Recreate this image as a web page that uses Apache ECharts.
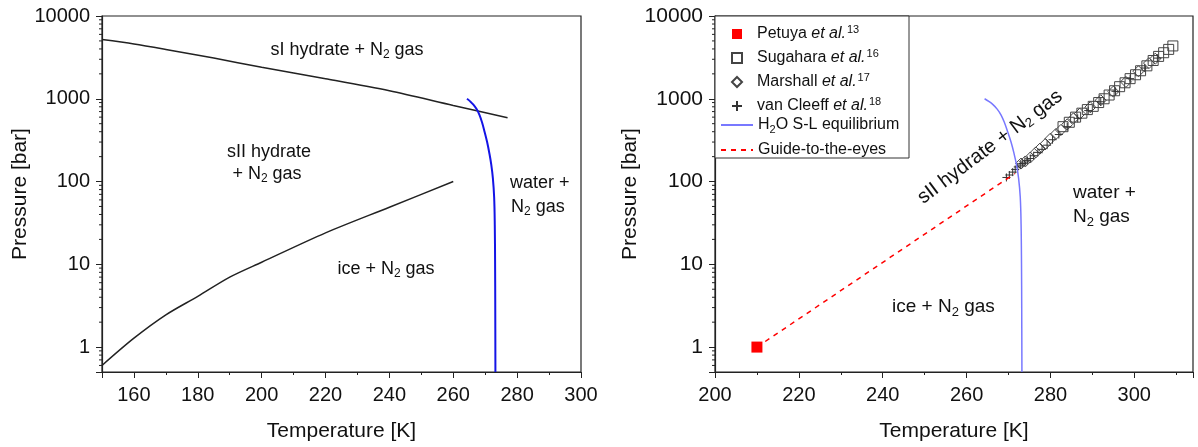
<!DOCTYPE html>
<html>
<head>
<meta charset="utf-8">
<script src="https://cdn.jsdelivr.net/npm/echarts@6/dist/echarts.min.js"></script>
<style>
  html, body { margin: 0; padding: 0; background: #fff; }
  #chart { width: 1198px; height: 447px; }
</style>
</head>
<body>
<div id="chart"></div>
<script>
// 左图：相平衡曲线
const sIT = [150, 160, 170, 185, 200, 220, 240, 260, 277];
const sIP = [5200, 4600, 3950, 3100, 2400, 1750, 1250, 830, 590];

const sIIT = [150, 160, 170, 180, 190, 200, 220, 240, 260];
const sIIP = [0.6, 1.28, 2.45, 4.1, 7.0, 10.6, 24, 49, 100];

// 冰-水 熔化曲线（两图共用）
const meltT = [264.3, 265.3, 266.3, 267.3, 268.2, 269.0, 269.8, 270.6, 271.3, 271.9, 272.4, 272.8, 273.0, 273.1, 273.15, 273.2];
const meltP = [1000, 930, 850, 750, 640, 520, 400, 300, 220, 160, 110, 65, 30, 10, 3, 0.5];

// 右图：实验数据
const petuyaT = [210];
const petuyaP = [1];

const sugaharaT = [283.0, 284.5, 286.0, 287.5, 288.8, 290.2, 291.5, 292.8, 294.0, 295.3, 296.5, 297.8, 299.0, 300.3, 301.5, 303.0, 304.5, 305.8, 307.0, 308.2, 309.2];
const sugaharaP = [460, 520, 600, 670, 740, 810, 900, 1000, 1110, 1250, 1400, 1560, 1750, 1950, 2180, 2500, 2900, 3250, 3600, 3950, 4350];

const marshallT = [273.0, 274.0, 275.2, 276.5, 277.5, 278.8, 280.0, 281.3, 282.5, 284.0, 285.5, 287.0, 289.5, 292.0, 295.0, 298.0, 301.0, 303.5, 305.0];
const marshallP = [165, 175, 195, 225, 250, 285, 330, 375, 420, 490, 580, 660, 790, 960, 1220, 1600, 2150, 2700, 3050];

const cleeffT = [269.5, 270.2, 271.0, 271.6, 272.2, 272.8, 273.3, 273.9, 274.5, 275.2, 276.0, 277.0, 278.0, 279.2, 280.5, 282.0, 284.0, 286.5, 289.0, 292.0, 295.5, 299.0, 302.5, 305.5];
const cleeffP = [112, 120, 130, 140, 150, 158, 165, 172, 180, 190, 205, 225, 245, 275, 320, 370, 460, 580, 720, 920, 1230, 1750, 2350, 3100];

const guideT = [210, 271.5];
const guideP = [1, 125];

// 对数轴次刻度
const minorTickVals = [0.6, 0.7, 0.8, 0.9,
  2, 3, 4, 5, 6, 7, 8, 9,
  20, 30, 40, 50, 60, 70, 80, 90,
  200, 300, 400, 500, 600, 700, 800, 900,
  2000, 3000, 4000, 5000, 6000, 7000, 8000, 9000];

const FONT = 'Liberation Sans, Arial, sans-serif';
const zip = (xs, ys) => xs.map((x, i) => [x, ys[i]]);

const chart = echarts.init(document.getElementById('chart'));

function xAxisCfg(gridIndex, min, max, extra) {
  return Object.assign({
    type: 'value', gridIndex, min, max,
    name: 'Temperature [K]', nameLocation: 'middle', nameGap: 49,
    nameTextStyle: { fontSize: 21, color: '#111', fontFamily: FONT },
    axisLine: { show: true, lineStyle: { color: '#222', width: 1.2 } },
    axisTick: { show: true, inside: false, length: 6, lineStyle: { color: '#222' } },
    minorTick: { show: true, splitNumber: 2, length: 3, lineStyle: { color: '#222' } },
    axisLabel: {
      fontSize: 20, color: '#111', fontFamily: FONT, margin: 13,
      formatter: v => (v % 20 === 0 ? String(v) : '')
    },
    splitLine: { show: false }
  }, extra);
}

function yAxisCfg(gridIndex, fs) {
  return {
    type: 'log', logBase: 10, gridIndex, min: 0.5, max: 10000,
    name: 'Pressure [bar]', nameLocation: 'middle', nameGap: 65,
    nameTextStyle: { fontSize: 21, color: '#111', fontFamily: FONT },
    axisLine: { show: true, lineStyle: { color: '#222', width: 1.2 } },
    axisTick: { show: true, inside: false, length: 6, lineStyle: { color: '#222' } },
    axisLabel: {
      fontSize: fs, color: '#111', fontFamily: FONT, margin: 12,
      formatter: v => {
        const l = Math.log10(v);
        return Math.abs(l - Math.round(l)) < 1e-6 ? String(Math.round(v)) : '';
      }
    },
    splitLine: { show: false }
  };
}

function minorTickSeries(xi, yi, xMin) {
  return {
    type: 'custom', xAxisIndex: xi, yAxisIndex: yi, silent: true, clip: false,
    data: minorTickVals.map(v => [xMin, v]),
    renderItem: (params, api) => {
      const p = api.coord([api.value(0), api.value(1)]);
      return {
        type: 'line',
        shape: { x1: p[0] - 3, y1: p[1], x2: p[0], y2: p[1] },
        style: { stroke: '#222', lineWidth: 1 }
      };
    }
  };
}

function label(x, y, text, align, size, rot) {
  const s = size || 18;
  return {
    type: 'text', x, y, rotation: rot || 0,
    style: {
      text, align: align || 'center', verticalAlign: 'middle',
      rich: {
        n: { fontSize: s, fontFamily: FONT, fill: '#111' },
        sub: { fontSize: Math.round(s * 0.66), fontFamily: FONT, fill: '#111', padding: [10, 0, 0, 0] }
      }
    }
  };
}

const legendNames = {
  'Petuya': '{g|}{n|Petuya }{i|et al.}{s|13}',
  'Sugahara': '{g|}{n|Sugahara }{i|et al.}{s|16}',
  'Marshall': '{g|}{n|Marshall }{i|et al.}{s|17}',
  'van Cleeff': '{g|}{n|van Cleeff }{i|et al.}{s|18}',
  'H2O': '{n|H}{b|2}{n|O S-L equilibrium}',
  'Guide': '{n|Guide-to-the-eyes}'
};

const legendText = {
  fontSize: 16, color: '#111', fontFamily: FONT,
  rich: {
    g: { width: 10, fontSize: 16 },
    n: { fontSize: 16, fontFamily: FONT, color: '#111' },
    i: { fontSize: 16, fontFamily: FONT, color: '#111', fontStyle: 'italic' },
    s: { fontSize: 11, fontFamily: FONT, color: '#111', padding: [0, 0, 9, 1] },
    b: { fontSize: 11, fontFamily: FONT, color: '#111', padding: [9, 0, 0, 0] }
  }
};

const hollow = { color: 'rgba(255,255,255,0)', borderColor: '#444', borderWidth: 1, opacity: 1 };
const plusPath = 'path://M5,0L5,10M0,5L10,5';

chart.setOption({
  animation: false,
  textStyle: { fontFamily: FONT },
  grid: [
    { left: 102, top: 16, width: 479, height: 358, show: true, borderColor: '#222', borderWidth: 1.2, backgroundColor: 'transparent' },
    { left: 715, top: 16, width: 478, height: 360, show: true, borderColor: '#222', borderWidth: 1.2, backgroundColor: 'transparent' }
  ],
  xAxis: [
    xAxisCfg(0, 150, 300, { splitNumber: 7 }),
    xAxisCfg(1, 200, 314, { interval: 20 })
  ],
  yAxis: [yAxisCfg(0, 20), yAxisCfg(1, 21)],
  legend: [
    {
      left: 731, top: 24, orient: 'vertical', z: 10,
      itemWidth: 10, itemHeight: 10, itemGap: 6,
      padding: 0,
      data: [
        { name: 'Petuya', icon: 'rect', itemStyle: { color: '#ff0000', opacity: 1 } },
        { name: 'Sugahara', icon: 'rect' },
        { name: 'Marshall', icon: 'diamond' },
        { name: 'van Cleeff', icon: plusPath }
      ],
      formatter: name => legendNames[name],
      textStyle: legendText
    },
    {
      left: 720, top: 117, orient: 'vertical', z: 10,
      itemWidth: 32, itemHeight: 11, itemGap: 7, itemTextGap: 5,
      padding: 0,
      data: [
        { name: 'H2O', itemStyle: { opacity: 0 } },
        { name: 'Guide', itemStyle: { opacity: 0 } }
      ],
      formatter: name => legendNames[name],
      textStyle: legendText
    }
  ],
  graphic: [
    // 图例外框
    { type: 'rect', z: 5, shape: { x: 715, y: 16, width: 194, height: 142 },
      style: { fill: '#fff', stroke: '#333', lineWidth: 1 } },
    // 左图标注
    label(347, 50, '{n|sI hydrate + N}{sub|2}{n| gas}'),
    label(269, 152, '{n|sII hydrate}'),
    label(267, 174, '{n|+ N}{sub|2}{n| gas}'),
    label(386, 269, '{n|ice + N}{sub|2}{n| gas}'),
    label(510, 183, '{n|water +}', 'left'),
    label(511, 207, '{n|N}{sub|2}{n| gas}', 'left'),
    // 右图标注
    label(990, 147, '{n|sII hydrate + N}{sub|2}{n| gas}', 'center', 20, 37 * Math.PI / 180),
    label(1073, 193, '{n|water +}', 'left', 19),
    label(1073, 217, '{n|N}{sub|2}{n| gas}', 'left', 19),
    label(892, 307, '{n|ice + N}{sub|2}{n| gas}', 'left', 19)
  ],
  series: [
    // 左图
    { name: 'sI', type: 'line', xAxisIndex: 0, yAxisIndex: 0, data: zip(sIT, sIP), smooth: 0.3,
      showSymbol: false, symbol: 'none', lineStyle: { color: '#222', width: 1.5 } },
    { name: 'sII', type: 'line', xAxisIndex: 0, yAxisIndex: 0, data: zip(sIIT, sIIP), smooth: 0.3,
      showSymbol: false, symbol: 'none', lineStyle: { color: '#222', width: 1.5 } },
    { name: 'melt', type: 'line', xAxisIndex: 0, yAxisIndex: 0, data: zip(meltT, meltP), smooth: 0.4,
      showSymbol: false, symbol: 'none', lineStyle: { color: '#1414e6', width: 2 } },
    minorTickSeries(0, 0, 150),
    // 右图
    { name: 'Guide', type: 'line', xAxisIndex: 1, yAxisIndex: 1, data: zip(guideT, guideP),
      showSymbol: false, symbol: 'none', itemStyle: { color: '#ff0000' },
      lineStyle: { color: '#ff0000', width: 1.5, type: [5, 5] } },
    { name: 'H2O', type: 'line', xAxisIndex: 1, yAxisIndex: 1, data: zip(meltT, meltP), smooth: 0.4,
      showSymbol: false, symbol: 'none', itemStyle: { color: '#7878ff' },
      lineStyle: { color: '#7878ff', width: 1.5 } },
    { name: 'Sugahara', type: 'scatter', xAxisIndex: 1, yAxisIndex: 1, data: zip(sugaharaT, sugaharaP),
      symbol: 'rect', symbolSize: 10, itemStyle: hollow },
    { name: 'Marshall', type: 'scatter', xAxisIndex: 1, yAxisIndex: 1, data: zip(marshallT, marshallP),
      symbol: 'diamond', symbolSize: 11, itemStyle: hollow },
    { name: 'van Cleeff', type: 'scatter', xAxisIndex: 1, yAxisIndex: 1, data: zip(cleeffT, cleeffP),
      symbol: plusPath, symbolSize: 8,
      itemStyle: { color: 'rgba(0,0,0,0)', borderColor: '#333', borderWidth: 1, opacity: 1 } },
    { name: 'Petuya', type: 'scatter', xAxisIndex: 1, yAxisIndex: 1, data: zip(petuyaT, petuyaP),
      symbol: 'rect', symbolSize: 11, itemStyle: { color: '#ff0000', opacity: 1 } },
    minorTickSeries(1, 1, 200)
  ]
});
</script>
</body>
</html>
